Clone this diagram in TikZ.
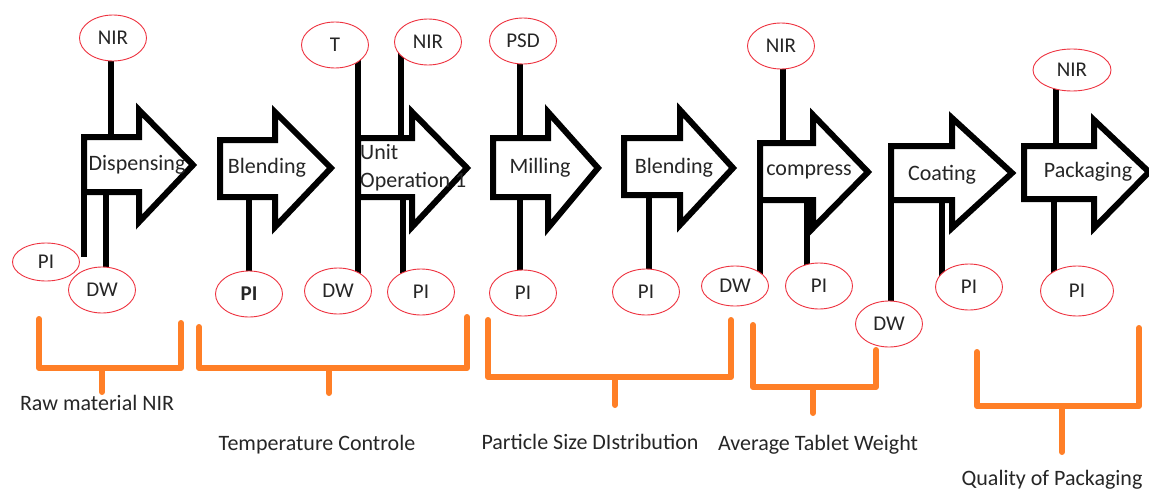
\documentclass[tikz,border=0pt]{standalone}
\usepackage{fontspec}
\setmainfont{Carlito}
\usepackage{xcolor}
\usetikzlibrary{shapes.geometric,backgrounds}

\definecolor{braceorange}{HTML}{FF7F27}
\definecolor{sensorred}{HTML}{EE3340}

\tikzset{
	stage/.style={draw=black, line width=6pt, fill=white},
	link/.style={draw=black, line width=6pt},
	sensor/.style={ellipse, draw=sensorred, line width=0.9pt, fill=white,
		minimum width=67pt, minimum height=46pt, inner sep=0pt,
		font=\fontsize{21}{25}\selectfont, text=black!85},
	steplabel/.style={font=\fontsize{22}{28}\selectfont, text=black!85, inner sep=0pt},
	brace/.style={draw=braceorange, line width=6pt, line cap=round, line join=round},
	bracelabel/.style={font=\fontsize{22}{26}\selectfont, text=black!85, inner sep=0pt},
}

\begin{document}
\begin{tikzpicture}[x=1pt, y=-1pt]
				\useasboundingbox (0,0) rectangle (1149,490);
				
				% process steps
				\draw[stage] (84,137) -- (139,137) -- (139,110) -- (193,165) -- (139,222) -- (139,192) -- (84,192) -- cycle;
				\draw[stage] (220,140) -- (275,140) -- (275,112) -- (331,168) -- (275,227) -- (275,197) -- (220,197) -- cycle;
				\draw[stage] (358,138) -- (412,138) -- (412,112) -- (467,168) -- (412,227) -- (412,197) -- (358,197) -- cycle;
				\draw[stage] (493,138) -- (548,138) -- (548,112) -- (598,168) -- (548,228) -- (548,197) -- (493,197) -- cycle;
				\draw[stage] (624,138) -- (680,138) -- (680,110) -- (733,168) -- (680,225) -- (680,195) -- (624,195) -- cycle;
				\draw[stage] (760,143) -- (813,143) -- (813,115) -- (868,172) -- (813,228) -- (813,200) -- (760,200) -- cycle;
				\draw[stage] (891,146) -- (952,146) -- (952,118) -- (1012,173) -- (952,228) -- (952,200) -- (891,200) -- cycle;
				\draw[stage] (1024,146) -- (1094,146) -- (1094,120) -- (1149,172) -- (1094,228) -- (1094,199) -- (1024,199) -- cycle;
				
				\node[steplabel] (dispensing) at (137,165) {Dispensing};
				\node[steplabel] (blendA) at (267,168) {Blending};
				\node[steplabel, anchor=west, align=left] (unitop) at (360,168) {Unit\\Operation 1};
				\node[steplabel] (milling) at (540,168) {Milling};
				\node[steplabel] (blendB) at (674,168) {Blending};
				\node[steplabel] (compress) at (809,172) {compress};
				\node[steplabel] (coating) at (942,175) {Coating};
				\node[steplabel] (packaging) at (1088,172) {Packaging};
				
				% sensors
				\node[sensor] (nirA) at (113,38) {NIR};
				\node[sensor, minimum height=38pt] (piA) at (46,262) {PI};
				\node[sensor] (dwA) at (102,290) {DW};
				\node[sensor, font=\fontsize{21}{25}\selectfont\bfseries] (piB) at (249,294) {PI};
				\node[sensor] (tC) at (335,45) {T};
				\node[sensor] (nirC) at (428,42) {NIR};
				\node[sensor] (dwC) at (338,291) {DW};
				\node[sensor] (piC) at (421,292) {PI};
				\node[sensor] (psdD) at (523,41) {PSD};
				\node[sensor] (piD) at (523,293) {PI};
				\node[sensor] (piE) at (646,292) {PI};
				\node[sensor] (nirF) at (781,46) {NIR};
				\node[sensor, minimum height=40pt] (dwF) at (735,286) {DW};
				\node[sensor] (piF) at (819,286) {PI};
				\node[sensor] (dwG) at (889,324) {DW};
				\node[sensor] (piG) at (969,287) {PI};
				\node[sensor, minimum width=78pt, minimum height=42pt] (nirH) at (1072,70) {NIR};
				\node[sensor, minimum width=73pt, minimum height=50pt] (piH) at (1077,291) {PI};
				
				\coordinate (dspTop) at (111,137);
				\coordinate (dspLeft) at (84,192);
				\coordinate (dspEnd) at (84,257);
				\coordinate (dspBot) at (106,192);
				\coordinate (blaBot) at (249,197);
				\coordinate (uoLeft) at (358,138);
				\coordinate (uoTop) at (401,138);
				\coordinate (uoBot) at (403,197);
				\coordinate (milTop) at (520,138);
				\coordinate (milBot) at (520,197);
				\coordinate (blbBot) at (649,195);
				\coordinate (cmpTop) at (783,143);
				\coordinate (cmpLeft) at (760,200);
				\coordinate (cmpBot) at (807,200);
				\coordinate (coaLeft) at (891,200);
				\coordinate (coaBot) at (942,200);
				\coordinate (pckTop) at (1056,146);
				\coordinate (pckBot) at (1054,199);
				
				\begin{pgfonlayer}{background}
					\draw[link] (dspTop) -- (dspTop |- nirA.center);
					\draw[link] (dspLeft) -- (dspEnd);
					\draw[link] (dspBot) -- (dspBot |- dwA.center);
					\draw[link] (blaBot) -- (blaBot |- piB.center);
					\draw[link] (uoLeft) -- (uoLeft |- tC.center);
					\draw[link] (uoLeft) -- (uoLeft |- dwC.center);
					\draw[link] (uoTop) -- (uoTop |- nirC.center);
					\draw[link] (uoBot) -- (uoBot |- piC.center);
					\draw[link] (milTop) -- (milTop |- psdD.center);
					\draw[link] (milBot) -- (milBot |- piD.center);
					\draw[link] (blbBot) -- (blbBot |- piE.center);
					\draw[link] (cmpTop) -- (cmpTop |- nirF.center);
					\draw[link] (cmpLeft) -- (cmpLeft |- dwF.center);
					\draw[link] (cmpBot) -- (cmpBot |- piF.center);
					\draw[link] (coaLeft) -- (coaLeft |- dwG.center);
					\draw[link] (coaBot) -- (coaBot |- piG.center);
					\draw[link] (pckTop) -- (pckTop |- nirH.center);
					\draw[link] (pckBot) -- (pckBot |- piH.center);
				\end{pgfonlayer}
				
				% brackets underneath
				\draw[brace] (39,319) -- (39,368) -- (181,368) -- (181,323);
				\draw[brace] (102,368) -- (102,392);
				\draw[brace] (199,327) -- (199,368) -- (467,368) -- (467,317);
				\draw[brace] (329,368) -- (329,393);
				\draw[brace] (488,320) -- (488,377) -- (731,377) -- (731,320);
				\draw[brace] (615,377) -- (615,405);
				\draw[brace] (753,325) -- (753,387) -- (876,387) -- (876,350);
				\draw[brace] (813,387) -- (813,413);
				\draw[brace] (977,352) -- (977,406) -- (1139,406) -- (1139,328);
				\draw[brace] (1062,406) -- (1062,452);
				
				\node[bracelabel] (rawnir) at (97,403) {Raw material NIR};
				\node[bracelabel] (tempctl) at (317,445) {Temperature Controle};
				\node[bracelabel] (psdist) at (590,442) {Particle Size DIstribution};
				\node[bracelabel] (tabweight) at (818,445) {Average Tablet Weight};
				\node[bracelabel] (packqual) at (1052,480) {Quality of Packaging};
				
\end{tikzpicture}
\end{document}
